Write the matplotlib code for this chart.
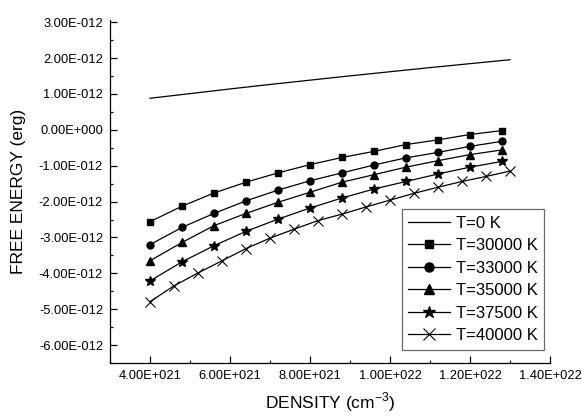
import matplotlib
matplotlib.use("Agg")
import matplotlib.pyplot as plt
from matplotlib.ticker import MultipleLocator, FuncFormatter

plt.rcParams['font.family'] = ['Liberation Sans', 'DejaVu Sans']

# density (cm^-3)
dens_t0 = [4.0e21, 5.0e21, 6.0e21, 7.0e21, 8.0e21, 9.0e21, 1.0e22, 1.1e22, 1.2e22, 1.3e22]
dens = [4.0e21, 4.8e21, 5.6e21, 6.4e21, 7.2e21, 8.0e21, 8.8e21, 9.6e21,
        1.04e22, 1.12e22, 1.20e22, 1.28e22]
dens_40k = [4.0e21, 4.6e21, 5.2e21, 5.8e21, 6.4e21, 7.0e21, 7.6e21, 8.2e21,
            8.8e21, 9.4e21, 1.0e22, 1.06e22, 1.12e22, 1.18e22, 1.24e22, 1.30e22]

# free energy (erg)
f_t0 = [0.88e-12, 1.01e-12, 1.14e-12, 1.265e-12, 1.385e-12, 1.505e-12, 1.62e-12,
        1.735e-12, 1.845e-12, 1.955e-12]
f_30k = [-2.56e-12, -2.13e-12, -1.76e-12, -1.46e-12, -1.20e-12, -0.97e-12,
         -0.77e-12, -0.60e-12, -0.41e-12, -0.28e-12, -0.13e-12, -0.02e-12]
f_33k = [-3.20e-12, -2.72e-12, -2.33e-12, -1.98e-12, -1.68e-12, -1.42e-12,
         -1.20e-12, -0.98e-12, -0.78e-12, -0.63e-12, -0.46e-12, -0.32e-12]
f_35k = [-3.65e-12, -3.14e-12, -2.67e-12, -2.33e-12, -2.02e-12, -1.74e-12,
         -1.46e-12, -1.25e-12, -1.04e-12, -0.86e-12, -0.69e-12, -0.56e-12]
f_375k = [-4.21e-12, -3.68e-12, -3.23e-12, -2.83e-12, -2.49e-12, -2.18e-12,
          -1.90e-12, -1.65e-12, -1.44e-12, -1.23e-12, -1.04e-12, -0.88e-12]
f_40k = [-4.79e-12, -4.35e-12, -3.99e-12, -3.65e-12, -3.31e-12, -3.02e-12,
         -2.77e-12, -2.53e-12, -2.35e-12, -2.15e-12, -1.96e-12, -1.77e-12,
         -1.60e-12, -1.44e-12, -1.30e-12, -1.15e-12]


def sci(v, pos):
    if abs(v) < 1e-30:
        return "0.00E+000"
    m, e = ("%.2E" % v).split("E")
    return "%sE%+04d" % (m, int(e))


fig = plt.figure(figsize=(5.82, 4.18), dpi=100)
ax = fig.add_axes([0.189, 0.1316, 0.756, 0.8195])

lw = 0.9
ax.plot(dens_t0, f_t0, '-', color='black', lw=lw, label='T=0 K')
ax.plot(dens, f_30k, '-s', color='black', lw=lw, ms=4.5, label='T=30000 K')
ax.plot(dens, f_33k, '-o', color='black', lw=lw, ms=5, label='T=33000 K')
ax.plot(dens, f_35k, '-^', color='black', lw=lw, ms=5.5, label='T=35000 K')
ax.plot(dens, f_375k, '-*', color='black', lw=lw, ms=7, label='T=37500 K')
ax.plot(dens_40k, f_40k, '-x', color='black', lw=lw, ms=7, mew=0.8, label='T=40000 K')

ax.set_xlim(3.0e21, 1.4e22)
ax.set_ylim(-6.5e-12, 3.05e-12)

ax.set_xticks([4e21, 6e21, 8e21, 1.0e22, 1.2e22, 1.4e22])
ax.xaxis.set_minor_locator(MultipleLocator(1e21))
ax.set_yticks([-6e-12, -5e-12, -4e-12, -3e-12, -2e-12, -1e-12, 0, 1e-12, 2e-12, 3e-12])
ax.yaxis.set_minor_locator(MultipleLocator(0.5e-12))
ax.xaxis.set_major_formatter(FuncFormatter(sci))
ax.yaxis.set_major_formatter(FuncFormatter(sci))

for s in ['top', 'right']:
    ax.spines[s].set_visible(False)
for s in ['left', 'bottom']:
    ax.spines[s].set_linewidth(0.9)

ax.tick_params(which='major', direction='in', length=4.8, width=0.9, labelsize=9.3, pad=5)
ax.tick_params(which='minor', direction='in', length=2.5, width=0.9)

ax.set_xlabel(r'DENSITY (cm$^{\mathregular{-3}}$)', fontsize=12.5, labelpad=6)
ax.set_ylabel('FREE ENERGY (erg)', fontsize=12.5, labelpad=9)

leg = ax.legend(loc='upper left', bbox_to_anchor=(0.69, 0.5), bbox_transform=fig.transFigure,
                fontsize=12, frameon=True, fancybox=False, borderaxespad=0,
                labelspacing=0.45, handlelength=2.5, handletextpad=0.35, borderpad=0.4,
                markerscale=1.3)
leg.get_frame().set_edgecolor('#444444')
leg.get_frame().set_linewidth(0.9)

fig.savefig('out.png', dpi=100)
